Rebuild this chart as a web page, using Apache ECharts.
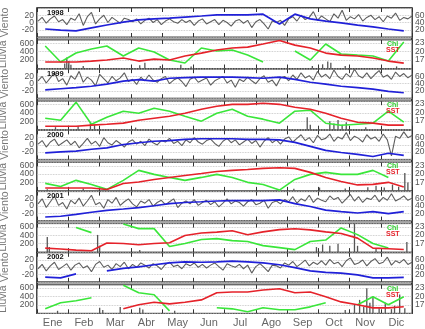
<!DOCTYPE html>
<html><head><meta charset="utf-8">
<script src="https://cdn.jsdelivr.net/npm/echarts@6/dist/echarts.min.js"></script>
<style>html,body{margin:0;padding:0;background:#fff}#c{width:425px;height:329px}</style>
</head><body><div id="c"></div>
<script>
const YEARS = ['1998','1999','2000','2001','2002'];
const MONTHS = ['Ene','Feb','Mar','Abr','May','Jun','Jul','Ago','Sep','Oct','Nov','Dic'];
// semi-monthly sampling days (day of year)
const DAYS15 = [8,23,38,53,68,84,99,114,129,144,160,175,190,205,220,236,251,266,281,296,312,327,342,357];
const WIND_START = 1, WIND_STEP = 4; // wind sampled every 4 days

const WIND_98 = [4,14,-2,10,18,2,8,-6,12,6, 24,-8,16,28,-4,10,20,0,14,6, -2,12,8,2,10,-4,6,12,0,8, -6,4,10,2,-2,8,0,6,-8,4, 10,-4,2,8,-6,6,0,-10,4,8, -2,6,-14,2,8,-4,-18,4,0,6, -8,10,16,4,20,8,14,30,6,18, 10,2,24,12,34,6,16,10,22,4, 14,20,8,16,2,18,12,26,6,14, 10,18];
const WIND_99 = [8,20,2,16,30,6,14,-4,22,12, 34,4,18,10,-6,26,14,2,20,8, 16,30,6,12,-2,18,8,24,10,4, 14,20,0,10,16,6,-8,12,18,4, 10,16,-4,8,14,20,2,10,-10,12, 6,18,8,0,14,22,4,10,-6,16, 20,8,24,12,30,16,22,10,34,18, 26,14,38,20,12,28,18,40,22,16, 30,14,26,36,18,24,12,32,20,28, 16,24];
const WIND_00 = [2,12,-6,8,16,-2,6,14,0,10, -8,4,18,2,10,-4,20,6,0,12, 4,-6,8,14,2,10,-2,16,6,0, 12,8,18,4,10,-2,14,6,20,8, 2,12,16,4,-4,10,18,6,14,0, 8,16,4,12,-6,10,20,6,14,2, 16,22,8,18,28,12,20,6,26,14, 18,30,10,22,16,34,12,24,18,8, 28,16,22,10,30,14,-30,24,18,36, 20,26];
const WIND_01 = [6,20,-4,12,28,2,10,-8,16,6, 22,0,14,30,4,10,-6,18,8,24, 2,12,20,6,-2,14,8,18,0,10, 16,4,12,20,-4,8,14,6,18,2, 10,16,4,12,-2,8,20,6,14,10, 0,12,18,4,8,16,-6,10,14,6, 18,12,26,8,20,14,30,10,22,16, 12,28,18,24,8,20,32,14,26,10, 22,18,30,12,24,16,34,14,20,28, 16,22];
const WIND_02 = [-4,8,-10,4,14,-6,2,10,-8,6, 12,-2,4,-12,8,16,0,6,-6,10, 2,14,-4,8,0,12,6,-2,10,4, -6,8,14,2,6,-4,10,4,12,0, 8,-2,6,12,2,-8,10,4,0,8, -4,6,-16,2,10,0,-12,6,4,-2, 12,6,16,2,10,20,4,14,8,18, 6,22,10,14,2,18,26,8,12,20, 4,16,24,10,14,28,6,18,12,22, 8,14];

const BLUE_98 = [22,19,17,25,33,41,47,50,52,55,58,61,61,61,63,36,63,50,44,39,33,28,22,17];
const BLUE_99 = [23,26,29,33,39,47,51,47,55,57,58,58,58,57,55,58,52,44,39,33,29,25,19,15];
const BLUE_00 = [18,21,23,28,32,41,46,50,52,55,57,57,57,55,55,54,47,36,25,19,14,8,17,11];
const BLUE_01 = [10,12,17,23,28,32,36,41,47,50,52,54,55,55,55,57,47,39,29,25,21,25,19,25];
const BLUE_02 = [13,11,22,null,30,37,41,47,52,55,54,55,57,55,52,47,39,30,26,24,19,11,11,12];

const SST_98 = [16.3,16.3,16.3,16.6,17.0,17.7,16.6,17.3,17.0,18.4,19.4,20.5,21.2,21.5,22.6,23.8,22.2,21.2,19.4,18.7,18.4,17.7,16.6,15.9];
const SST_99 = [15.2,15.2,15.2,15.6,15.9,16.3,17.3,18.0,18.7,19.8,21.2,22.2,22.9,22.9,23.3,22.9,21.9,21.2,19.8,18.0,16.6,16.3,15.6,15.6];
const SST_00 = [15.0,15.0,15.0,15.0,14.5,16.6,17.1,18.0,18.7,19.4,20.1,20.8,21.2,21.5,21.9,22.1,21.9,20.5,18.7,17.3,16.1,16.3,17.0,15.4];
const SST_01 = [15.4,15.1,14.7,14.5,17.2,17.0,16.6,17.0,17.3,19.8,20.7,21.0,21.5,20.1,21.1,21.9,22.2,21.8,21.1,20.5,18.9,15.4,15.2,14.9];
const SST_02 = [null,null,null,null,null,15.6,17.0,17.9,17.3,17.9,18.7,21.2,21.5,21.5,22.2,22.6,21.2,21.5,19.8,18.0,17.0,15.9,15.9,16.3];

const CHL_98 = [2.37,0.68,1.63,2.05,2.37,1.32,2.16,1.74,0.90,0.58,2.16,1.84,1.95,1.42,0.68,null,1.84,0.90,2.58,1.53,1.42,1.32,0.79,2.79];
const CHL_99 = [1.21,1.00,2.90,0.58,1.32,1.95,1.74,2.26,1.95,1.42,0.90,1.74,2.16,1.42,1.11,0.68,1.95,2.05,0.68,0.47,0.58,0.68,1.95,0.79];
const CHL_00 = [0.79,0.47,1.11,0.68,0.16,1.11,2.16,1.74,1.42,1.11,1.42,1.74,1.42,0.90,0.68,0.09,1.21,1.74,1.95,1.74,1.74,2.16,1.42,null];
const CHL_01 = [null,null,2.58,2.05,null,2.95,2.47,2.47,0.58,0.90,1.32,1.42,1.21,1.11,0.68,0.47,0.26,1.11,1.27,2.54,1.84,0.90,0.43,null];
const CHL_02 = [0.47,1.11,1.32,1.63,null,2.95,2.16,1.95,0.26,null,null,0.58,0.47,0.16,0.58,0.37,0.37,0.68,1.11,null,0.90,1.74,0.90,1.74];

// rain: [day of year, mm]
const RAIN_98 = [[27,120],[29,260],[31,180],[33,90],[45,60],[100,80],[105,140],[120,60],[140,90],[150,50],[268,60],[278,100],[283,170],[286,140],[300,60],[350,50]];
const RAIN_99 = [[18,60],[40,90],[52,180],[56,110],[96,50],[263,300],[266,120],[285,200],[289,150],[293,230],[297,120],[301,180],[320,60]];
const RAIN_00 = [[10,40],[45,60],[250,50],[275,80],[300,60],[322,90],[330,120],[338,80],[346,150],[352,100],[358,430],[361,200]];
const RAIN_01 = [[10,360],[12,120],[59,410],[61,150],[100,50],[272,120],[278,180],[285,150],[293,200],[309,680],[312,150],[330,90],[360,240]];
const RAIN_02 = [[20,60],[61,130],[64,80],[81,150],[100,130],[103,90],[134,60],[300,80],[309,200],[314,320],[318,150],[321,600],[324,250],[327,400],[333,120],[339,250],[345,100],[348,180],[353,450],[358,120]];

const WIND = [WIND_98, WIND_99, WIND_00, WIND_01, WIND_02];
const BLUE = [BLUE_98, BLUE_99, BLUE_00, BLUE_01, BLUE_02];
const SST = [SST_98, SST_99, SST_00, SST_01, SST_02];
const CHL = [CHL_98, CHL_99, CHL_00, CHL_01, CHL_02];
const RAIN = [RAIN_98, RAIN_99, RAIN_00, RAIN_01, RAIN_02];

const pair15 = arr => arr.map((v, k) => [DAYS15[k], v == null ? '-' : v]);
const pairWind = arr => arr.map((v, k) => [WIND_START + k * WIND_STEP, v]);

const LEFT = 37, RIGHT = 13, TOP0 = 8, BLOCK = 61.2, VH = 29, GAP = 3, LH = 28.5;
const FONT = 'Liberation Sans';
const lblStyle = {fontSize: 8.5, color: '#555', margin: 3, showMinLabel: false, showMaxLabel: false, fontFamily: FONT};
const split = {show: true, lineStyle: {color: '#bbb', type: 'dotted', width: 0.8}};

const grids = [], xAxes = [], yAxes = [], series = [], graphics = [];

function gridBox(top, height, extra) {
  return Object.assign({left: LEFT, right: RIGHT, top: top, height: height, show: true,
    containLabel: false, outerBoundsMode: 'none'}, extra);
}

function monthAxis(gi, pos, showLabel) {
  xAxes.push({type: 'category', gridIndex: gi, data: MONTHS, boundaryGap: true, position: pos,
    axisLine: {show: false}, splitLine: {show: false},
    axisTick: {show: true, inside: true, length: 4, lineStyle: {color: '#333', width: 1}},
    axisLabel: {show: showLabel, fontSize: 11, color: '#666', margin: 4, fontFamily: FONT}});
}

YEARS.forEach((yr, i) => {
  const t = TOP0 + i * BLOCK;
  const last = i === YEARS.length - 1;
  const gB = grids.length;
  grids.push(gridBox(t, VH + GAP + LH, {backgroundColor: '#a9a9a9', borderColor: '#111', borderWidth: 1.5}));
  const gV = grids.length;
  grids.push(gridBox(t, VH, {backgroundColor: '#fff', borderColor: '#444', borderWidth: 1}));
  const gL = grids.length;
  grids.push(gridBox(t + VH + GAP, LH, {backgroundColor: '#fff', borderColor: '#444', borderWidth: 1}));

  xAxes.push({type: 'value', gridIndex: gB, show: false, min: 0, max: 1});
  yAxes.push({type: 'value', gridIndex: gB, show: false, min: 0, max: 1});

  const xV = xAxes.length;
  xAxes.push({type: 'value', gridIndex: gV, show: false, min: 0, max: 365});
  monthAxis(gV, 'bottom', false);
  monthAxis(gV, 'top', false);
  const xL = xAxes.length;
  xAxes.push({type: 'value', gridIndex: gL, show: false, min: 0, max: 365});
  monthAxis(gL, 'bottom', last);
  monthAxis(gL, 'top', false);

  const yVL = yAxes.length;
  yAxes.push({type: 'value', gridIndex: gV, position: 'left', min: -40, max: 40, interval: 20,
    axisLine: {show: false}, axisTick: {show: false}, axisLabel: lblStyle, splitLine: split,
    name: 'Viento', nameLocation: 'middle', nameGap: 25, nameTextStyle: {fontSize: 10.5, color: '#777', fontFamily: FONT}});
  const yVR = yAxes.length;
  yAxes.push({type: 'value', gridIndex: gV, position: 'right', min: 0, max: 80, interval: 20,
    axisLine: {show: false}, axisTick: {show: false}, axisLabel: lblStyle, splitLine: {show: false}});
  const yLL = yAxes.length;
  yAxes.push({type: 'value', gridIndex: gL, position: 'left', min: 0, max: 680, interval: 200,
    axisLine: {show: false}, axisTick: {show: false}, axisLabel: lblStyle, splitLine: split,
    name: 'Lluvia', nameLocation: 'middle', nameGap: 25, nameTextStyle: {fontSize: 10.5, color: '#777', fontFamily: FONT}});
  const yLR = yAxes.length;
  yAxes.push({type: 'value', gridIndex: gL, position: 'right', min: 14, max: 24, interval: 3,
    axisLine: {show: false}, axisTick: {show: false}, axisLabel: lblStyle, splitLine: {show: false}});
  const yLC = yAxes.length;
  yAxes.push({type: 'value', gridIndex: gL, show: false, min: 0, max: 3});

  series.push({name: 'Viento ' + yr, type: 'line', xAxisIndex: xV, yAxisIndex: yVL, data: pairWind(WIND[i]),
    showSymbol: false, lineStyle: {color: '#5e5e5e', width: 1.1}, z: 2});
  series.push({name: 'Blue ' + yr, type: 'line', xAxisIndex: xV, yAxisIndex: yVR, data: pair15(BLUE[i]),
    showSymbol: false, connectNulls: false, lineStyle: {color: '#2020d8', width: 1.7}, z: 3});
  series.push({name: 'Lluvia ' + yr, type: 'bar', xAxisIndex: xL, yAxisIndex: yLL, data: RAIN[i],
    barWidth: 1.3, itemStyle: {color: '#555'}, z: 2});
  series.push({name: 'Chl ' + yr, type: 'line', xAxisIndex: xL, yAxisIndex: yLC, data: pair15(CHL[i]),
    showSymbol: false, connectNulls: false, lineStyle: {color: '#3ae63a', width: 1.6}, z: 3});
  series.push({name: 'SST ' + yr, type: 'line', xAxisIndex: xL, yAxisIndex: yLR, data: pair15(SST[i]),
    showSymbol: false, connectNulls: false, lineStyle: {color: '#e5222a', width: 1.6}, z: 4});

  graphics.push({type: 'text', left: 47, top: t + 0.5, z: 100,
    style: {text: yr, font: 'bold 7.5px "Liberation Sans"', fill: '#111'}});
  graphics.push({type: 'text', left: 387, top: t + VH + GAP + 0.5, z: 100,
    style: {text: 'Chl', font: 'bold 7px "Liberation Sans"', fill: '#2ecc2e'}});
  graphics.push({type: 'text', left: 386, top: t + VH + GAP + 6.5, z: 100,
    style: {text: 'SST', font: 'bold 7px "Liberation Sans"', fill: '#e5222a'}});
});

const chart = echarts.init(document.getElementById('c'));
chart.setOption({
  animation: false,
  backgroundColor: '#fff',
  textStyle: {fontFamily: FONT},
  grid: grids, xAxis: xAxes, yAxis: yAxes, series: series, graphic: graphics
});
</script></body></html>
